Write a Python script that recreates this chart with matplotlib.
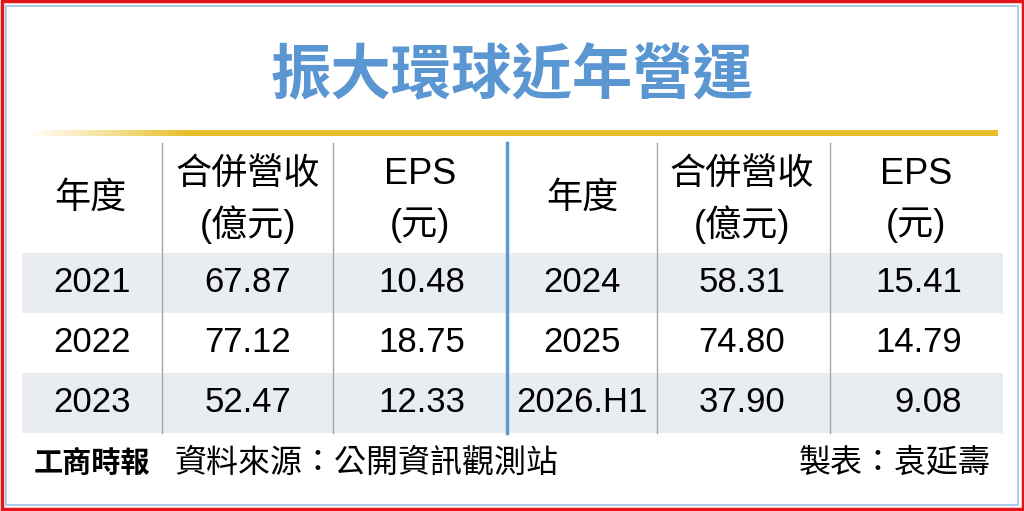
import matplotlib.pyplot as plt
import matplotlib.patches as mpatches
import numpy as np

plt.rcParams['font.family'] = ['Liberation Sans', 'Noto Sans CJK TC', 'DejaVu Sans']

title = "振大環球近年營運"
headers = ["年度", "合併營收\n(億元)", "EPS\n(元)"]
years_left = ["2021", "2022", "2023"]
rev_left = ["67.87", "77.12", "52.47"]
eps_left = ["10.48", "18.75", "12.33"]
years_right = ["2024", "2025", "2026.H1"]
rev_right = ["58.31", "74.80", "37.90"]
eps_right = ["15.41", "14.79", "9.08"]
source = "資料來源：公開資訊觀測站"
maker = "製表：袁延壽"
paper = "工商時報"

W, H = 1024, 511
fig = plt.figure(figsize=(W / 100, H / 100), dpi=100)
ax = fig.add_axes([0, 0, 1, 1])
ax.set_xlim(0, W)
ax.set_ylim(H, 0)
ax.axis("off")

# frames
ax.add_patch(mpatches.Rectangle((1.5, 1.5), W - 3, H - 3, fill=False, ec="#e3151a", lw=2.5))
ax.add_patch(mpatches.Rectangle((6, 6), W - 12, H - 12, fill=False, ec="#9dc3e6", lw=1.2))

# title
ax.text(512, 76, title, ha="center", va="center", fontsize=43.5, color="#5a96d2",
        family=["Noto Sans CJK TC"], fontweight="bold")

# gold line with fade on the left
grad = np.zeros((1, 400, 4))
gold = np.array([0.91, 0.75, 0.16])
grad[0, :, :3] = gold
grad[0, :, 3] = np.clip(np.linspace(0, 6, 400), 0, 1)
ax.imshow(grad, extent=(28, 998, 136.5, 130.5), aspect="auto", interpolation="bilinear", zorder=2)
ax.set_xlim(0, W)
ax.set_ylim(H, 0)

# stripes
row_top = [253, 313, 373]
row_h = 60
for i, top in enumerate(row_top):
    if i % 2 == 0:
        ax.add_patch(mpatches.Rectangle((22, top), 981, row_h, fc="#e9edf2", ec="none", zorder=1))

# separators
for x in [162, 333, 657, 830]:
    ax.plot([x, x], [143, 433], color="#a6a6a6", lw=1.0, zorder=3)
ax.plot([507, 507], [143, 433], color="#5b9bd5", lw=2.5, zorder=3)

# headers
col_left = [90, 248, 420]
col_right = [582, 742, 916]
fs = 25
hfs = 26
for cols in (col_left, col_right):
    for x, h in zip(cols, headers):
        if "\n" in h:
            top, bot = h.split("\n")
            ax.text(x, 175, top, ha="center", va="center", fontsize=hfs, zorder=4)
            ax.text(x, 225, bot, ha="center", va="center", fontsize=hfs, zorder=4)
        else:
            ax.text(x, 198, h, ha="center", va="center", fontsize=hfs, zorder=4)

# data
for i in range(3):
    y = row_top[i] + row_h / 2
    ax.text(col_left[0] + 2, y, years_left[i], ha="center", va="center", fontsize=fs, zorder=4)
    ax.text(col_left[1], y, rev_left[i], ha="center", va="center", fontsize=fs, zorder=4)
    ax.text(465, y, eps_left[i], ha="right", va="center", fontsize=fs, zorder=4)
    ax.text(col_right[0], y, years_right[i], ha="center", va="center", fontsize=fs, zorder=4)
    ax.text(col_right[1], y, rev_right[i], ha="center", va="center", fontsize=fs, zorder=4)
    ax.text(962, y, eps_right[i], ha="right", va="center", fontsize=fs, zorder=4)

# footer
ax.text(34, 463, paper, ha="left", va="center", fontsize=21, fontweight="bold",
        family=["Noto Sans CJK TC"])
ax.text(174, 463, source, ha="left", va="center", fontsize=23, family=["Noto Sans CJK TC"])
ax.text(991, 463, maker, ha="right", va="center", fontsize=23, family=["Noto Sans CJK TC"])

fig.savefig("out.png", dpi=100)
